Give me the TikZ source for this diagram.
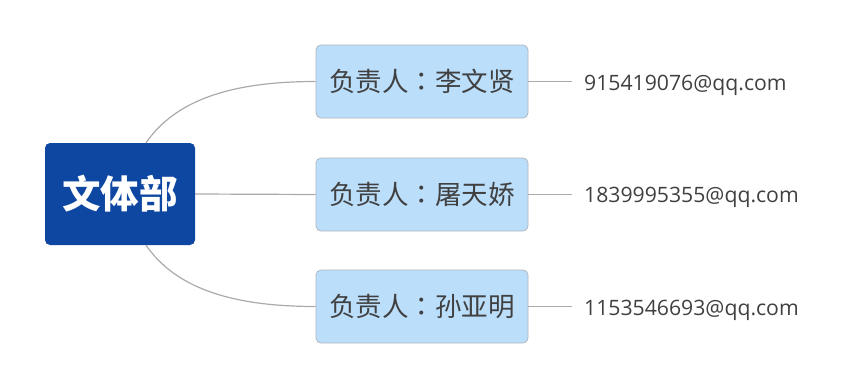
\documentclass[tikz,border=0pt]{standalone}
\usepackage{fontspec}
\newfontfamily\cjk{Noto Sans CJK SC}
\newfontfamily\cjkjp{Noto Sans CJK JP}
\newfontfamily\latinf{Open Sans}
\usetikzlibrary{calc}
\definecolor{mainblue}{HTML}{0D47A1}
\definecolor{childblue}{HTML}{BBDEFB}
\definecolor{childborder}{HTML}{AEB6BF}
\definecolor{linegray}{HTML}{AAAAAA}
\definecolor{txtgray}{HTML}{404040}
\newcommand{\fwcolon}{{\cjkjp ：}}
\tikzset{
  rootbox/.style={fill=mainblue, rounded corners=5pt, minimum width=150pt, minimum height=102pt,
    inner sep=0pt, text=white, font=\cjk\bfseries\fontsize{38.5}{40}\selectfont},
  childbox/.style={fill=childblue, draw=childborder, line width=0.8pt, rounded corners=5pt,
    minimum width=212pt, minimum height=73pt, inner sep=0pt, text=txtgray,
    font=\cjk\fontsize{26.5}{28}\selectfont},
  mailtext/.style={anchor=west, inner xsep=12pt, inner ysep=2pt, text=txtgray,
    font=\latinf\fontsize{21.2}{24}\selectfont},
  link/.style={draw=linegray, line width=1.2pt},
}
\begin{document}
\begin{tikzpicture}[x=1pt,y=-1pt]
\useasboundingbox (0,0) rectangle (860,391);
\node[rootbox] (main) at (120,194) {文体部};
\node[childbox] (c1) at (422,81.5) {\raisebox{-1pt}{负责人\fwcolon 李文贤}};
\node[childbox] (c2) at (422,194.5) {\raisebox{-1pt}{负责人\fwcolon 屠天娇}};
\node[childbox] (c3) at (422,306.5) {\raisebox{-1pt}{负责人\fwcolon 孙亚明}};
\node[mailtext] (e1) at (572,85) {915419076@qq.com};
\node[mailtext] (e2) at (572,197.5) {1839995355@qq.com};
\node[mailtext] (e3) at (572,310) {1153546693@qq.com};
\coordinate (s1) at ([xshift=26pt]main.north);
\coordinate (s3) at ([xshift=26pt]main.south);
\draw[link] (s1) .. controls ($(s1)+(29,-42)$) and ($(c1.west)+(-86,0)$) .. (c1.west);
\draw[link] (main.east) -- (c2.west);
\draw[link] (s3) .. controls ($(s3)+(29,42)$) and ($(c3.west)+(-86,0)$) .. (c3.west);
\draw[link] (c1.east) -- (c1.east -| e1.west);
\draw[link] (c2.east) -- (c2.east -| e2.west);
\draw[link] (c3.east) -- (c3.east -| e3.west);
\end{tikzpicture}
\end{document}
